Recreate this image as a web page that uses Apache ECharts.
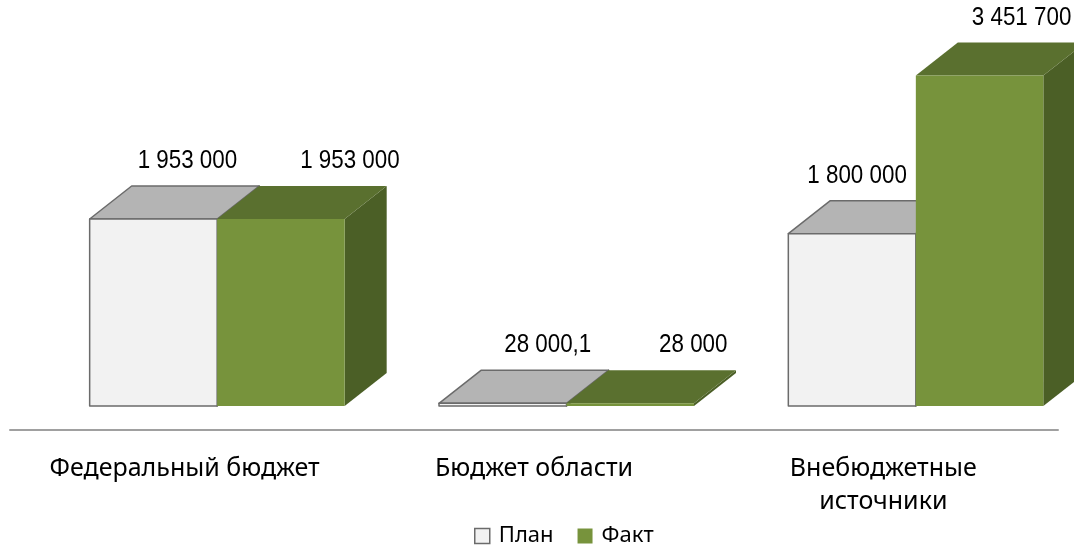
<!DOCTYPE html>
<html>
<head>
<meta charset="utf-8">
<script src="https://cdn.jsdelivr.net/npm/echarts@6/dist/echarts.min.js"></script>
<style>
html,body{margin:0;padding:0;background:#fff;}
#chart{width:1074px;height:546px;}
</style>
</head>
<body>
<div id="chart"></div>
<script>
// ---- data ----
const categories = ['Федеральный бюджет', 'Бюджет области', 'Внебюджетные\nисточники'];
const seriesNames = ['План', 'Факт'];
const planValues = [1953000, 28000.1, 1800000];
const factValues = [1953000, 28000, 3451700];
const planLabels = ['1 953 000', '28 000,1', '1 800 000'];
const factLabels = ['1 953 000', '28 000', '3 451 700'];

// ---- style ----
const DEPTH_X = 42, DEPTH_Y = 33;
const BAR_RATIO = 0.365;
const GROUP_SHIFT = 32.5;
const planLabelDx = [34, 45, 5];
const factLabelDx = [69, 63, 42];
const LABEL_DY = 25;
const styles = [
  {front: '#f2f2f2', top: '#b4b4b4', side: '#9a9a9a', stroke: '#6b6b6b', lw: 1.5},
  {front: '#77933c', top: '#5a702f', side: '#4b5f26', stroke: null, lw: 0}
];
const valueFont = '"Liberation Sans", Arial, sans-serif';

function makeRender(si, labels, dxs) {
  return function (params, api) {
    const cat = api.value(0);
    const val = api.value(1);
    const top = api.coord([cat, val]);
    const base = api.coord([cat, 0]);
    const band = api.size([1, 0])[0];
    const w = band * BAR_RATIO;
    const center = top[0] + GROUP_SHIFT;
    const x0 = si === 0 ? center - w : center;
    const x1 = x0 + w;
    const yT = top[1], yB = base[1];
    const st = styles[si];
    const strokeStyle = st.stroke ? {stroke: st.stroke, lineWidth: st.lw, lineJoin: 'round'} : {};
    const lx = x0 + w / 2 + dxs[params.dataIndex];
    const ly = yT - DEPTH_Y - LABEL_DY;
    const children = [
      {type: 'polygon', shape: {points: [[x1, yT], [x1 + DEPTH_X, yT - DEPTH_Y], [x1 + DEPTH_X, yB - DEPTH_Y], [x1, yB]]},
        style: Object.assign({fill: st.side}, strokeStyle)},
      {type: 'polygon', shape: {points: [[x0, yT], [x1, yT], [x1 + DEPTH_X, yT - DEPTH_Y], [x0 + DEPTH_X, yT - DEPTH_Y]]},
        style: Object.assign({fill: st.top}, strokeStyle)},
      {type: 'rect', shape: {x: x0, y: yT, width: w, height: yB - yT},
        style: Object.assign({fill: st.front}, strokeStyle)},
      {type: 'text', x: lx, y: ly, scaleX: 0.86, scaleY: 1, originX: 0, originY: 0,
        style: {text: labels[params.dataIndex], fill: '#000', font: '26px ' + valueFont, align: 'center', verticalAlign: 'middle'}}
    ];
    return {type: 'group', children: children};
  };
}

const chart = echarts.init(document.getElementById('chart'), null, {renderer: 'canvas'});
chart.setOption({
  animation: false,
  backgroundColor: '#fff',
  grid: {left: 10, right: 16, top: 23, bottom: 140, containLabel: false},
  legend: {
    top: 520, left: 469,
    itemWidth: 15, itemHeight: 15, itemGap: 24,
    icon: 'rect',
    textStyle: {fontFamily: '"Noto Sans", sans-serif', fontSize: 22, color: '#000', padding: [0, 0, 0, 4]},
    data: [
      {name: seriesNames[0], itemStyle: {color: '#f2f2f2', borderColor: '#6b6b6b', borderWidth: 1.5}},
      {name: seriesNames[1], itemStyle: {color: '#77933c'}}
    ]
  },
  xAxis: {
    type: 'category',
    data: categories,
    offset: 24,
    axisLine: {show: true, onZero: false, lineStyle: {color: '#a0a0a0', width: 2}},
    axisTick: {show: false},
    axisLabel: {interval: 0, margin: 22, fontFamily: '"Noto Sans", sans-serif', fontSize: 25, color: '#000', lineHeight: 33}
  },
  yAxis: {type: 'value', min: 0, max: 4000000, show: false, splitLine: {show: false}},
  series: [
    {name: seriesNames[0], type: 'custom', clip: false, renderItem: makeRender(0, planLabels, planLabelDx),
      itemStyle: {color: '#f2f2f2'}, encode: {x: 0, y: 1},
      data: planValues.map((v, i) => [i, v])},
    {name: seriesNames[1], type: 'custom', clip: false, renderItem: makeRender(1, factLabels, factLabelDx),
      itemStyle: {color: '#77933c'}, encode: {x: 0, y: 1},
      data: factValues.map((v, i) => [i, v])}
  ]
});
</script>
</body>
</html>
